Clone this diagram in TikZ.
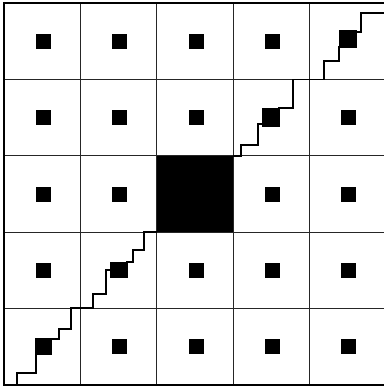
\documentclass[tikz,border=0pt]{standalone}
\begin{document}
\begin{tikzpicture}[x=1pt,y=-1pt,
  gridline/.style={line width=0.9pt,draw=black!85},
  border/.style={line width=1.6pt,draw=black},
  stair/.style={line width=1.8pt,draw=black,line join=miter},
  sq/.style={fill=black,inner sep=0pt,minimum size=15pt,draw=none}]
\useasboundingbox (0,0) rectangle (383,388);
% grid
\foreach \i in {1,2,3,4}{
  \draw[gridline] ({4+76.4*\i},3) -- ({4+76.4*\i},385);
  \draw[gridline] (4,{3+76.4*\i}) -- (386,{3+76.4*\i});
}
\draw[border] (386,3) -- (4,3) -- (4,385) -- (386,385);
% big square
\fill[black] (156.8,155.8) rectangle (233.2,232.2);
% small squares
\foreach \r in {0,...,4}{
  \foreach \c in {0,...,4}{
    \pgfmathtruncatemacro{\s}{\r+\c}
    \ifnum\s=4\else
      \node[sq] (s-\r-\c) at ({4+76.4*(\c+0.5)+1},{3+76.4*(\r+0.5)}) {};
    \fi
  }
}
% squares on the diagonal cells
\fill[black] (37,339) rectangle (52,355);
\node[sq] (s-4-0) at (44.5,347) {};
\fill[black] (110,262) rectangle (128,278);
\node[sq] (s-3-1) at (119,270) {};
\fill[black] (262,108) rectangle (280,127);
\node[sq] (s-1-3) at (271,117.5) {};
\fill[black] (339,30) rectangle (357,48);
\node[sq] (s-0-4) at (348,39) {};
% staircases
\draw[stair] (4,385) -- (17,385) -- (17,373) -- (36,373) -- (36,339) -- (59,339)
  -- (59,329) -- (71,329) -- (71,308) -- (93,308) -- (93,294) -- (106,294)
  -- (106,270) -- (112,270);
\draw[stair] (126,262) -- (133,262) -- (133,250) -- (144,250) -- (144,232) -- (157,232);
\draw[stair] (233,155.8) -- (241,155.8) -- (241,145) -- (258,145) -- (258,124) -- (264,124);
\draw[stair] (278,108) -- (293,108) -- (293,79.4) -- (324,79.4) -- (324,61)
  -- (339,61) -- (339,46);
\draw[stair] (355,32) -- (361,32) -- (361,13) -- (386,13);
\end{tikzpicture}
\end{document}
